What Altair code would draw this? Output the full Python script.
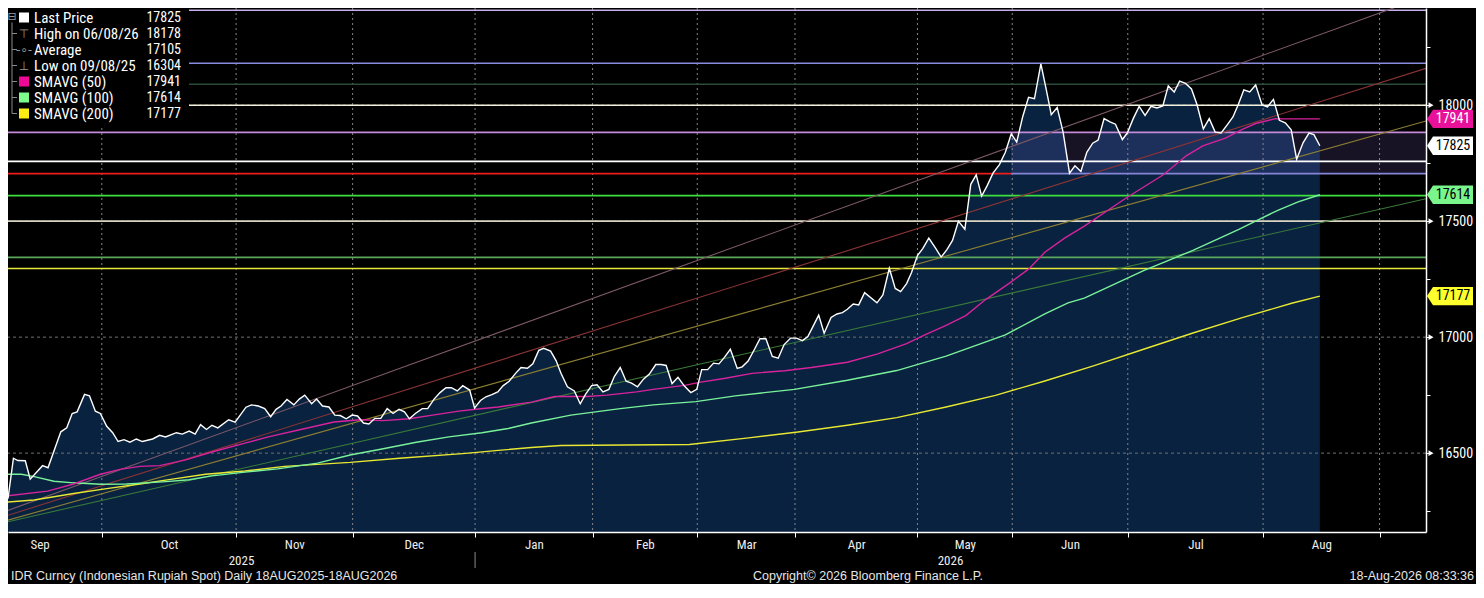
import altair as alt
import pandas as pd

# ---------------- data (x = trading-session index, y = IDR per USD) ----------------
price_t = [0.0, 1.1, 2.0, 3.5, 4.5, 7.0, 8.1, 10.7, 11.9, 13.0, 14.0, 15.5, 16.5, 17.7, 18.7,
           20.0, 21.2, 22.3, 23.5, 24.7, 26.0, 27.2, 29.3, 30.7, 31.9, 34.1, 35.3, 36.7, 37.9,
           39.0, 40.2, 41.3, 42.5, 44.7, 46.0, 48.2, 49.3, 50.7, 52.0, 53.2, 54.3, 55.3, 56.5,
           57.9, 59.0, 60.1, 61.5, 62.5, 63.7, 65.0, 66.2, 67.3, 68.5, 69.7, 70.8, 72.0, 73.1,
           74.3, 75.5, 76.8, 78.0, 79.2, 80.3, 81.3, 82.5, 83.9, 85.0, 86.3, 87.5, 88.7, 89.8,
           91.0, 92.1, 93.5, 94.5, 95.7, 96.8, 98.0, 99.2, 100.3, 101.5, 102.8, 103.9, 105.2,
           106.3, 107.5, 108.5, 109.9, 111.0, 112.0, 113.3, 114.7, 115.9, 117.0, 118.2, 119.3,
           120.5, 121.7, 122.8, 124.0, 125.2, 126.3, 127.5, 128.7, 129.9, 131.2, 132.3, 133.3,
           134.5, 135.7, 137.0, 138.3, 139.5, 140.5, 141.7, 142.9, 144.0, 145.1, 146.3, 147.7,
           148.7, 149.9, 151.2, 152.3, 153.5, 154.8, 156.0, 157.2, 158.5, 159.7, 160.9, 162.0,
           163.0, 164.2, 165.3, 166.7, 167.9, 169.0, 170.0, 171.2, 172.3, 173.5, 176.0, 177.2,
           178.5, 179.7, 180.8, 182.0, 183.0, 184.2, 185.3, 186.5, 187.8, 189.0, 190.2, 191.3,
           192.5, 193.8, 195.0, 196.1, 197.2, 198.3, 199.5, 200.8, 202.0, 203.2, 204.3, 205.5,
           206.7, 207.9, 209.2, 210.3, 211.3, 212.5, 213.7, 215.0, 216.1, 217.3, 218.5, 219.7,
           220.8, 222.0, 223.2, 224.3, 225.7, 226.7, 227.9, 229.1, 230.3, 231.5, 232.7, 233.9,
           235.0, 236.2, 237.3, 238.5, 239.7, 240.8, 242.1, 243.3, 244.5, 245.7, 246.9, 248.1,
           249.2, 250.3, 251.5, 252.7, 254.0, 255.1, 256.3, 257.5, 258.7, 259.9, 261.0, 262.3,
           263.5, 264.5, 265.7]
price_v = [16304, 16478, 16468, 16467, 16388, 16446, 16437, 16592, 16609, 16671, 16678, 16753, 16747, 16681, 16671,
           16616, 16588, 16550, 16558, 16547, 16561, 16550, 16561, 16577, 16570, 16588, 16582, 16595, 16582,
           16623, 16602, 16620, 16609, 16644, 16634, 16698, 16708, 16703, 16692, 16657, 16689, 16703, 16731,
           16708, 16733, 16750, 16713, 16733, 16703, 16699, 16664, 16662, 16648, 16664, 16660, 16630, 16626,
           16650, 16650, 16692, 16671, 16689, 16678, 16648, 16671, 16692, 16692, 16733, 16761, 16782, 16782,
           16768, 16791, 16772, 16695, 16727, 16743, 16752, 16764, 16791, 16810, 16844, 16869, 16866,
           16885, 16943, 16952, 16940, 16899, 16844, 16786, 16768, 16713, 16754, 16791, 16795,
           16764, 16775, 16830, 16869, 16810, 16802, 16786, 16819, 16841, 16882, 16882, 16878,
           16800, 16827, 16789, 16761, 16775, 16860, 16860, 16888, 16885, 16913, 16948, 16865,
           16872, 16897, 16948, 16993, 16993, 16917, 16909, 16968, 16996, 16996, 16985, 17003,
           17044, 17095, 17017, 17085, 17100, 17106, 17120, 17143, 17139, 17192, 17148, 17182,
           17297, 17210, 17196, 17231, 17279, 17352, 17383, 17427, 17386, 17345, 17378, 17417,
           17500, 17465, 17659, 17700, 17608, 17652, 17707, 17744, 17797, 17876, 17841, 17949,
           18034, 18028, 18178, 18066, 17959, 17990, 17884, 17707, 17739, 17714, 17797, 17836,
           17850, 17942, 17928, 17918, 17852, 17880, 17942, 17995, 17956, 17995, 17988, 17997,
           18083, 18057, 18104, 18094, 18070, 18004, 17898, 17942, 17884, 17880, 17914, 17949,
           18004, 18066, 18057, 18087, 18001, 17993, 18025, 17935, 17924, 17894, 17767, 17838,
           17880, 17873, 17825]

sma50_t = [0, 8, 13.3, 18.7, 22.7, 26.7, 30.7, 36, 41.3, 48, 52.7, 59.3, 66, 71.3, 76, 81.3, 86,
           91.3, 94.7, 99.3, 106, 110.7, 117.3, 121.3, 127.3, 130.7, 137.3, 140, 145.3, 150.7,
           157.3, 162.7, 170, 176, 182, 185.7, 190, 194, 198, 202.7, 206.7, 210, 214, 218, 226.7,
           234, 238.7, 242, 246.7, 250, 252.7, 256.7, 258, 265.7]
sma50_v = [16316, 16336, 16367, 16409, 16430, 16443, 16446, 16471, 16505, 16543, 16570, 16602,
           16634, 16644, 16640, 16648, 16664, 16681, 16689, 16699, 16720, 16744, 16744, 16750,
           16764, 16775, 16793, 16805, 16823, 16844, 16855, 16869, 16892, 16927, 16972, 17010,
           17051, 17093, 17162, 17231, 17293, 17366, 17427, 17479, 17603, 17700, 17783, 17825,
           17859, 17896, 17921, 17942, 17941, 17941]

sma100_t = [0, 2.7, 5.3, 9.3, 13.3, 18.7, 24, 28, 32, 36.7, 41.3, 48, 54.6, 62.7, 69.3, 76, 82.7,
            89.3, 96, 101.3, 106, 114, 124, 130.7, 139.3, 147.3, 159.3, 170, 180, 190, 202, 210,
            214.7, 218, 230, 240, 249.3, 253.3, 257.3, 261.3, 265.7]
sma100_v = [16409, 16409, 16399, 16379, 16372, 16366, 16367, 16372, 16377, 16385, 16402, 16418,
            16432, 16457, 16492, 16519, 16547, 16570, 16588, 16606, 16630, 16664, 16692, 16708,
            16722, 16747, 16775, 16814, 16856, 16918, 17010, 17100, 17148, 17168, 17287, 17374,
            17465, 17507, 17548, 17583, 17614]

sma200_t = [0, 5.3, 13.3, 20, 26.7, 33.3, 40, 48, 56, 69.3, 79.3, 92.7, 99.3, 106, 112, 138, 150,
            160, 170, 180, 190, 200, 210, 220, 230, 240, 250, 260, 265.7]
sma200_v = [16289, 16298, 16326, 16347, 16367, 16388, 16409, 16423, 16443, 16460, 16478, 16499,
            16512, 16524, 16533, 16537, 16566, 16591, 16620, 16653, 16699, 16749, 16811, 16877,
            16948, 17018, 17084, 17146, 17177]

# month boundaries (session index) and names
month_bounds = [-6.2, 19.0, 46.2, 69.8, 94.6, 118.4, 139.6, 159.4, 184.2, 203.4, 226.8, 254.2, 277.8]
month_names = ["Sep", "Oct", "Nov", "Dec", "Jan", "Feb", "Mar", "Apr", "May", "Jun", "Jul", "Aug"]
year_names = ["2025", "2026"]
year_split = 94.6

X_MAX = 287.2
Y_MIN, Y_MAX = 16160, 18419
grid_levels = [16500, 17000, 17500, 18000]
ytick_values = [16250, 16500, 16750, 17000, 17250, 17500, 17750, 18000, 18250]

# horizontal studies: level, start, end
level_values = [18409, 18181, 18090, 18000, 17883, 17758, 17705, 17705, 17610, 17500, 17344, 17296]
level_start = [0, 0, 0, 0, 0, 0, 0, 203.2, 0, 0, 0, 0]
level_end = [X_MAX] * 6 + [203.2, X_MAX] + [X_MAX] * 4
level_colors = ["#c8b0ee", "#8a8ade", "#2d4b3c", "#f2f2dc", "#c58ad8", "#ffffff", "#f01c1c",
                "#8585d8", "#3ee03e", "#d8d4c0", "#5aa85a", "#e8e83a"]

# shaded box study
box_x = [203.2, X_MAX]
box_y = [17705, 17883]

# trend fan: value at session 0 and at X_MAX
trend_start = [16253, 16232, 16211, 16204]
trend_end = [18470, 18159, 17932, 17597]
trend_colors = ["#7d5a68", "#8a3434", "#8c7f32", "#3a7a3a"]

# price tags on right axis
tag_values = [17941, 17825, 17614, 17177]
tag_fill = ["#e8119a", "#ffffff", "#7af58c", "#ffff2e"]
tag_text = ["#ffffff", "#000000", "#000000", "#000000"]

# legend
legend_labels = ["Last Price", "High on 06/08/26", "Average", "Low on 09/08/25",
                 "SMAVG (50)", "SMAVG (100)", "SMAVG (200)"]
legend_values = ["17825", "18178", "17105", "16304", "17941", "17614", "17177"]
legend_swatch = ["#ffffff", "", "", "", "#ee0a96", "#7dfc8c", "#fcec14"]
legend_glyph = ["", "\u22a4", "-\u2218-", "\u22a5", "", "", ""]

footer_left = "IDR Curncy (Indonesian Rupiah Spot) Daily 18AUG2025-18AUG2026"
footer_mid = "Copyright\u00a9 2026 Bloomberg Finance L.P."
footer_right = "18-Aug-2026 08:33:36"

# ---------------- styling ----------------
W, H = 1418, 524
FONT = "Liberation Sans Narrow, Arial Narrow, Roboto Condensed, DejaVu Sans Condensed, Liberation Sans, sans-serif"
FOOT_FONT = "Liberation Sans, Arial, sans-serif"
AREA = "#082240"
C50, C100, C200 = "#d8239c", "#7af29a", "#e8e832"

xs = alt.Scale(domain=[0, X_MAX], nice=False, zero=False)
ys = alt.Scale(domain=[Y_MIN, Y_MAX], nice=False, zero=False)

bounds_in = [b for b in month_bounds if 0 <= b <= X_MAX]
mids = [round((a + b) / 2, 2) for a, b in zip(month_bounds[:-1], month_bounds[1:])]
axis_vals = sorted(bounds_in + mids)
label_expr = " : ".join(f"datum.value == {m} ? '{n}'" for m, n in zip(mids, month_names)) + " : ''"
tick_test = f"indexof({bounds_in}, datum.value) >= 0"

xaxis = alt.Axis(orient="bottom", values=axis_vals, labelExpr=label_expr,
                 tickOpacity={"condition": {"test": tick_test, "value": 1}, "value": 0},
                 tickColor="#ffffff", tickSize=5, domainColor="#ffffff", domainWidth=1.5,
                 labelColor="#eeeeee", labelFontSize=13, labelFont=FONT, labelPadding=1,
                 labelOverlap=False, labelFlush=False, labelBound=False, grid=False,
                 title=None, zindex=1)
yaxis = alt.Axis(orient="right", values=ytick_values, format="d",
                 labelExpr="datum.value % 500 == 0 ? datum.label : ''",
                 tickColor="#ffffff", tickSize=4, domainColor="#ffffff", domainWidth=1.5,
                 labelColor="#ffffff", labelFontSize=14, labelFont=FONT, labelPadding=8,
                 labelOverlap=False, labelFlush=False, labelBound=False, grid=False,
                 title=None, zindex=1)


def X(field):
    return alt.X(field, scale=xs, axis=xaxis)


def Y(field):
    return alt.Y(field, scale=ys, axis=yaxis)


price_df = pd.DataFrame({"t": price_t, "v": price_v})

area = alt.Chart(price_df).mark_area(color=AREA, opacity=1).encode(
    x=X("t:Q"), y=Y("v:Q"), y2=alt.datum(Y_MIN))

vgrid = alt.Chart(pd.DataFrame({"b": bounds_in})).mark_rule(
    color="#858585", strokeDash=[2, 3], strokeWidth=1).encode(x=X("b:Q"))

hgrid = alt.Chart(pd.DataFrame({"g": grid_levels})).mark_rule(
    color="#707070", strokeDash=[3, 3], strokeWidth=1).encode(y=Y("g:Q"))

box = alt.Chart(pd.DataFrame({"x1": [box_x[0]], "x2": [box_x[1]],
                              "y1": [box_y[0]], "y2": [box_y[1]]})).mark_rect(
    color="#a080ff", opacity=0.14).encode(
    x=X("x1:Q"), x2="x2:Q", y=Y("y1:Q"), y2="y2:Q")

levels = alt.Chart(pd.DataFrame({"lv": level_values, "s": level_start, "e": level_end,
                                 "c": level_colors})).mark_rule(strokeWidth=1.6).encode(
    x=X("s:Q"), x2="e:Q", y=Y("lv:Q"), color=alt.Color("c:N", scale=None))

trend_rows = []
for i, (a, b, c) in enumerate(zip(trend_start, trend_end, trend_colors)):
    trend_rows.append({"id": i, "t": 0, "v": a, "c": c})
    trend_rows.append({"id": i, "t": X_MAX, "v": b, "c": c})
trends = alt.Chart(pd.DataFrame(trend_rows)).mark_line(strokeWidth=1.1, clip=True).encode(
    x=X("t:Q"), y=Y("v:Q"), color=alt.Color("c:N", scale=None), detail="id:N")

sma_rows = []
for name, tt, vv, c in [("200", sma200_t, sma200_v, C200), ("100", sma100_t, sma100_v, C100),
                        ("50", sma50_t, sma50_v, C50)]:
    for t, v in zip(tt, vv):
        sma_rows.append({"s": name, "t": t, "v": v, "c": c})
smas = alt.Chart(pd.DataFrame(sma_rows)).mark_line(strokeWidth=1.4).encode(
    x=X("t:Q"), y=Y("v:Q"), color=alt.Color("c:N", scale=None), detail="s:N")

price_line = alt.Chart(price_df).mark_line(color="#ffffff", strokeWidth=1.4).encode(
    x=X("t:Q"), y=Y("v:Q"))

tri = alt.Chart(pd.DataFrame({"g": grid_levels, "xe": [X_MAX] * len(grid_levels)})).mark_point(
    shape="triangle-right", filled=True, color="#ffffff", size=34, opacity=1, xOffset=5).encode(
    x=X("xe:Q"), y=Y("g:Q"))

tag_df = pd.DataFrame({"v": tag_values, "f": tag_fill, "tc": tag_text,
                       "lbl": [str(v) for v in tag_values], "xe": [X_MAX] * len(tag_values)})
TAG_SHAPE = "M -1 0 L -0.74 -0.4 L 1 -0.4 L 1 0.4 L -0.74 0.4 Z"
tags = alt.Chart(tag_df).mark_point(shape=TAG_SHAPE, filled=True, size=2116, opacity=1,
                                    strokeWidth=0, xOffset=24).encode(
    x=X("xe:Q"), y=Y("v:Q"), color=alt.Color("f:N", scale=None))
tag_labels = alt.Chart(tag_df).mark_text(font=FONT, fontSize=14, align="center",
                                         baseline="middle", xOffset=27).encode(
    x=X("xe:Q"), y=Y("v:Q"), text="lbl:N", color=alt.Color("tc:N", scale=None))

# ---------------- inset legend ----------------
ROW0, STEP = 9.5, 16
leg_df = pd.DataFrame({"row": list(range(len(legend_labels))), "label": legend_labels,
                       "val": legend_values, "sw": legend_swatch, "gl": legend_glyph})
leg_df["py"] = ROW0 + STEP * leg_df["row"]

leg_box = alt.Chart(pd.DataFrame({"k": [0]})).mark_rect(color="#000000", opacity=1).encode(
    x=alt.value(0), x2=alt.value(181), y=alt.value(0), y2=alt.value(118))
leg_tree = alt.Chart(pd.DataFrame({"k": [0]})).mark_rule(color="#8a8a8a", strokeWidth=1).encode(
    x=alt.value(4), y=alt.value(ROW0 + 5), y2=alt.value(ROW0 + STEP * 6))
leg_stubs = alt.Chart(leg_df[leg_df["row"] > 0]).mark_rule(color="#8a8a8a", strokeWidth=1).encode(
    x=alt.value(4), x2=alt.value(9), y=alt.Y("py:Q", scale=None))
leg_top = alt.Chart(pd.DataFrame({"k": [0]})).mark_text(
    text="\u229f", font="DejaVu Sans", fontSize=11, color="#9a9a9a",
    align="center", baseline="middle").encode(x=alt.value(4), y=alt.value(ROW0 - 1))
leg_sw = alt.Chart(leg_df[leg_df["sw"] != ""]).mark_point(
    shape="square", filled=True, size=100, opacity=1).encode(
    x=alt.value(16), y=alt.Y("py:Q", scale=None), color=alt.Color("sw:N", scale=None))
leg_gl = alt.Chart(leg_df[leg_df["gl"] != ""]).mark_text(
    font="DejaVu Sans", fontSize=12, color="#9a9a9a", align="center", baseline="middle").encode(
    x=alt.value(16), y=alt.Y("py:Q", scale=None), text="gl:N")
leg_lbl = alt.Chart(leg_df).mark_text(font=FONT, fontSize=15, color="#ffffff",
                                      align="left", baseline="middle").encode(
    x=alt.value(26), y=alt.Y("py:Q", scale=None), text="label:N")
leg_val = alt.Chart(leg_df).mark_text(font=FONT, fontSize=14, color="#ffffff",
                                      align="right", baseline="middle").encode(
    x=alt.value(173), y=alt.Y("py:Q", scale=None), text="val:N")

# ---------------- year row & footer ----------------
year_df = pd.DataFrame({"yr": year_names,
                        "t": [year_split / 2, (year_split + X_MAX) / 2]})
years = alt.Chart(year_df).mark_text(font=FONT, fontSize=13, color="#eeeeee",
                                     align="center", baseline="middle").encode(
    x=X("t:Q"), y=alt.value(H + 29), text="yr:N")
year_sep = alt.Chart(pd.DataFrame({"t": [year_split]})).mark_rule(
    color="#8a8a8a", strokeWidth=1).encode(
    x=X("t:Q"), y=alt.value(H + 20), y2=alt.value(H + 36))


def foot(txt, xpos, align):
    return alt.Chart(pd.DataFrame({"txt": [txt]})).mark_text(
        font=FOOT_FONT, fontSize=12.5, color="#e6e6e6", align=align, baseline="middle").encode(
        x=alt.value(xpos), y=alt.value(H + 44), text="txt:N")


footers = [foot(footer_left, 3, "left"), foot(footer_mid, 745, "left"),
           foot(footer_right, W + 48, "right")]

chart = alt.layer(
    area, vgrid, hgrid, box, levels, trends, smas, price_line,
    tri, tags, tag_labels,
    leg_box, leg_tree, leg_stubs, leg_top, leg_sw, leg_gl, leg_lbl, leg_val,
    years, year_sep, *footers,
).properties(
    width=W, height=H,
    autosize=alt.AutoSizeParams(type="none"),
    padding={"left": 0, "top": 0, "right": 50, "bottom": 52},
).configure(background="#000000").configure_view(stroke="transparent")

chart.save("out.html", embed_options={"renderer": "svg", "actions": False})
